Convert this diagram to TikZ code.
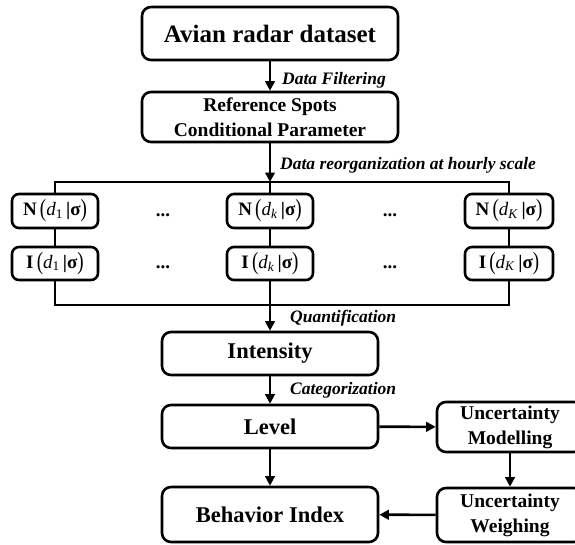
\documentclass[tikz,border=0pt]{standalone}
\usepackage{fontspec}
\setmainfont{Liberation Serif}
\usetikzlibrary{arrows.meta}
\newcommand{\tall}[1]{\raisebox{-0.15ex}{\scalebox{1}[1.3]{\normalfont #1}}}
\newcommand{\qty}[3]{\textbf{#1}\,\tall{(}\textit{d}\textsubscript{#2}\,\textbf{|}\textbf{σ}\tall{)}}
\begin{document}
\begin{tikzpicture}[x=1pt,y=-1pt,
  box/.style={draw, line width=2.6pt, rounded corners=9pt, align=center, inner sep=0pt},
  bigbox/.style={box, font=\fontsize{25}{30}\selectfont\bfseries},
  midbox/.style={box, font=\fontsize{22.5}{27}\selectfont\bfseries},
  smbox/.style={box, font=\fontsize{19.5}{25}\selectfont\bfseries},
  qbox/.style={box, rounded corners=7pt, font=\fontsize{19}{22}\selectfont},
  lab/.style={anchor=west, inner sep=0pt, font=\fontsize{17.5}{21}\selectfont\bfseries\itshape},
  dots/.style={anchor=base, inner sep=0pt, font=\fontsize{19}{22}\selectfont\bfseries},
  ln/.style={line width=2.6pt},
  arr/.style={line width=2.6pt, -{Triangle[length=9.5pt,width=9.5pt]}}]
\useasboundingbox (0,0) rectangle (575,544);
\fill[white] (0,0) rectangle (575,544);

\node[bigbox, minimum width=256pt, minimum height=53pt] (avian) at (270,33.5) {Avian radar dataset};
\node[smbox, minimum width=256pt, minimum height=50pt] (ref) at (270,117) {Reference Spots\\Conditional Parameter};

\coordinate (ctop) at (270,182);
\coordinate (tl) at (55,182);
\coordinate (tr) at (509,182);
\coordinate (cbot) at (270,305);
\coordinate (bl) at (55,305);
\coordinate (br) at (509,305);

\node[qbox, minimum width=86pt, minimum height=34pt] (n1) at (55,211) {\qty{N}{1}{}};
\node[qbox, minimum width=86pt, minimum height=33pt] (i1) at (55,263.5) {\qty{I}{1}{}};
\node[qbox, minimum width=86pt, minimum height=34pt] (nk) at (270,211) {\qty{N}{\textit{k}}{}};
\node[qbox, minimum width=86pt, minimum height=33pt] (ik) at (270,263.5) {\qty{I}{\textit{k}}{}};
\node[qbox, minimum width=88pt, minimum height=34pt] (nK) at (509,211) {\qty{N}{\textit{K}}{}};
\node[qbox, minimum width=88pt, minimum height=33pt] (iK) at (509,263.5) {\qty{I}{\textit{K}}{}};

\node[dots] (d1) at (163,216) {...};
\node[dots] (d2) at (390,216) {...};
\node[dots] (d3) at (163,268) {...};
\node[dots] (d4) at (390,268) {...};

\node[midbox, minimum width=216pt, minimum height=43pt] (int) at (270,353.5) {Intensity};
\node[midbox, minimum width=216pt, minimum height=43pt] (lev) at (270,426.5) {Level};
\node[midbox, minimum width=216pt, minimum height=55pt] (beh) at (270,514.5) {Behavior Index};
\node[smbox, minimum width=146pt, minimum height=50pt] (um) at (510,427) {Uncertainty\\Modelling};
\node[smbox, minimum width=146pt, minimum height=54pt] (uw) at (510,515) {Uncertainty\\Weighing};

\node[lab] (l1) at (282,80) {Data Filtering};
\node[lab] (l2) at (280,165) {Data reorganization at hourly scale};
\node[lab] (l3) at (290,318) {Quantification};
\node[lab] (l4) at (290,390) {Categorization};

\draw[arr] (avian) -- (ref);
\draw[arr] (ref) -- (ctop);
\draw[ln] (n1.north) -- (tl) -- (tr) -- (nK.north);
\draw[ln] (ctop) -- (nk.north);
\draw[ln] (n1) -- (i1);
\draw[ln] (nk) -- (ik);
\draw[ln] (nK) -- (iK);
\draw[ln] (i1.south) -- (bl) -- (br) -- (iK.south);
\draw[ln] (ik.south) -- (cbot);
\draw[arr] (cbot) -- (int.north);
\draw[arr] (int) -- (lev);
\draw[arr] (lev) -- (beh);
\draw[arr] (lev) -- (um);
\draw[arr] (um) -- (uw);
\draw[arr] (uw) -- (beh);
\end{tikzpicture}
\end{document}
